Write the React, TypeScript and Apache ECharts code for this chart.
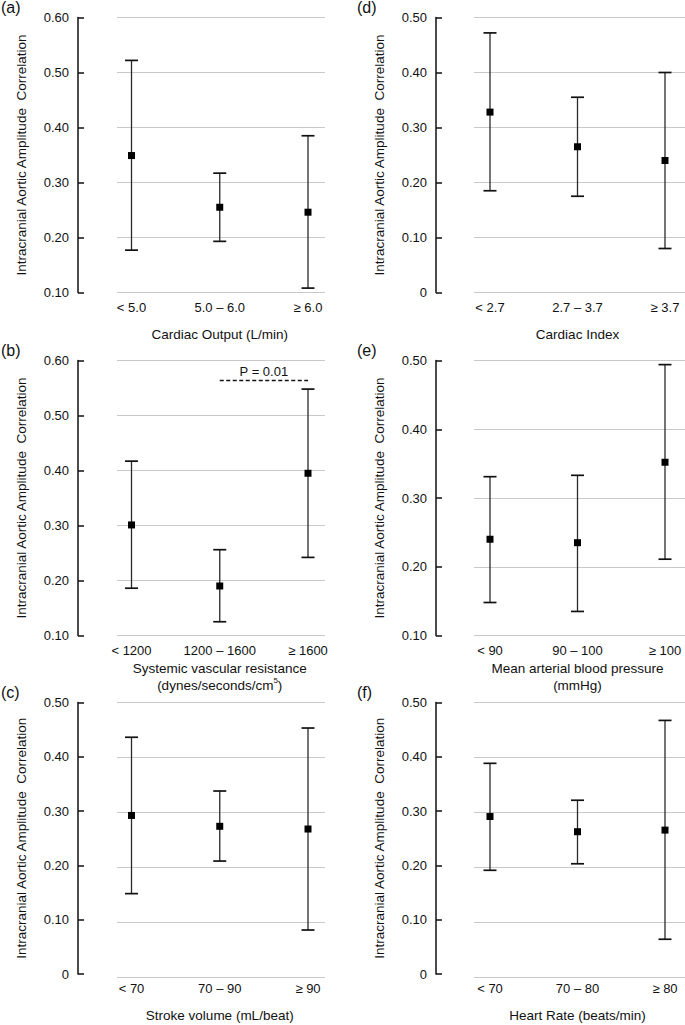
import React, { useEffect, useRef } from 'react';
import * as echarts from 'echarts';

const FONT = "'Liberation Sans', Arial, Helvetica, sans-serif";
const TXT = '#111';
const Y_NAME = 'Intracranial Aortic Amplitude  Correlation';

// (a) Cardiac output
const catsA = ['< 5.0', '5.0 – 6.0', '≥ 6.0'];
const meanA = [0.349, 0.255, 0.246];
const lowA = [0.177, 0.193, 0.108];
const highA = [0.522, 0.317, 0.385];

// (b) Systemic vascular resistance
const catsB = ['< 1200', '1200 – 1600', '≥ 1600'];
const meanB = [0.301, 0.19, 0.395];
const lowB = [0.186, 0.125, 0.242];
const highB = [0.417, 0.256, 0.548];
const pLevelB = 0.565;
const pTextB = 'P = 0.01';

// (c) Stroke volume
const catsC = ['< 70', '70 – 90', '≥ 90'];
const meanC = [0.292, 0.272, 0.267];
const lowC = [0.148, 0.208, 0.081];
const highC = [0.436, 0.337, 0.453];

// (d) Cardiac index
const catsD = ['< 2.7', '2.7 – 3.7', '≥ 3.7'];
const meanD = [0.328, 0.265, 0.24];
const lowD = [0.185, 0.175, 0.08];
const highD = [0.472, 0.355, 0.4];

// (e) Mean arterial blood pressure
const catsE = ['< 90', '90 – 100', '≥ 100'];
const meanE = [0.24, 0.235, 0.352];
const lowE = [0.148, 0.135, 0.211];
const highE = [0.331, 0.333, 0.494];

// (f) Heart rate
const catsF = ['< 70', '70 – 80', '≥ 80'];
const meanF = [0.29, 0.262, 0.265];
const lowF = [0.191, 0.203, 0.064];
const highF = [0.388, 0.32, 0.467];

const panels = [
  { tag: '(a)', cats: catsA, mean: meanA, low: lowA, high: highA, min: 0.1, max: 0.6, xName: 'Cardiac Output (L/min)', col: 0, row: 0 },
  { tag: '(d)', cats: catsD, mean: meanD, low: lowD, high: highD, min: 0, max: 0.5, xName: 'Cardiac Index', col: 1, row: 0 },
  { tag: '(b)', cats: catsB, mean: meanB, low: lowB, high: highB, min: 0.1, max: 0.6, xName: 'Systemic vascular resistance\n(dynes/seconds/cm{sup|5})', col: 0, row: 1, p: true },
  { tag: '(e)', cats: catsE, mean: meanE, low: lowE, high: highE, min: 0.1, max: 0.5, xName: 'Mean arterial blood pressure\n(mmHg)', col: 1, row: 1 },
  { tag: '(c)', cats: catsC, mean: meanC, low: lowC, high: highC, min: 0, max: 0.5, xName: 'Stroke volume (mL/beat)', col: 0, row: 2 },
  { tag: '(f)', cats: catsF, mean: meanF, low: lowF, high: highF, min: 0, max: 0.5, xName: 'Heart Rate (beats/min)', col: 1, row: 2 },
];

const COLS = [
  { axisX: 78, bgLeft: 117, bgWidth: 208, dataLeft: 131.5, dataWidth: 176.5, tagX: 1 },
  { axisX: 436, bgLeft: 474, bgWidth: 211, dataLeft: 490, dataWidth: 175, tagX: 357 },
];
const ROWS = [
  { top: 17.5, height: 275 },
  { top: 360.5, height: 275 },
  { top: 702.5, height: 275 },
];

function renderErrorBar(params: any, api: any) {
  const x = api.value(0);
  const pLow = api.coord([x, api.value(1)]);
  const pHigh = api.coord([x, api.value(2)]);
  const pMean = api.coord([x, api.value(3)]);
  const hw = 6.5;
  const s = 7;
  return {
    type: 'group',
    children: [
      { type: 'line', shape: { x1: pLow[0], y1: pLow[1], x2: pHigh[0], y2: pHigh[1] }, style: { stroke: '#2a2a2a', lineWidth: 1.3 } },
      { type: 'line', shape: { x1: pLow[0] - hw, y1: pLow[1], x2: pLow[0] + hw, y2: pLow[1] }, style: { stroke: '#111', lineWidth: 1.7 } },
      { type: 'line', shape: { x1: pHigh[0] - hw, y1: pHigh[1], x2: pHigh[0] + hw, y2: pHigh[1] }, style: { stroke: '#111', lineWidth: 1.7 } },
      { type: 'rect', shape: { x: pMean[0] - s / 2, y: pMean[1] - s / 2, width: s, height: s }, style: { fill: '#000' } },
    ],
  };
}

export default function App() {
  const ref = useRef<HTMLDivElement>(null);
  useEffect(() => {
    if (!ref.current) return;
    const chart = echarts.init(ref.current, undefined, { renderer: 'svg' });
    const grid: any[] = [];
    const xAxis: any[] = [];
    const yAxis: any[] = [];
    const series: any[] = [];
    const graphic: any[] = [];
    panels.forEach((p, i) => {
      const c = COLS[p.col];
      const r = ROWS[p.row];
      const bg = 2 * i;
      const dg = 2 * i + 1;
      grid.push({ left: c.bgLeft, width: c.bgWidth, top: r.top, height: r.height, containLabel: false });
      grid.push({ left: c.dataLeft, width: c.dataWidth, top: r.top, height: r.height, containLabel: false });
      xAxis.push({ gridIndex: bg, type: 'value', min: 0, max: 1, show: false });
      yAxis.push({
        gridIndex: bg, type: 'value', min: p.min, max: p.max, interval: 0.1,
        axisLine: { show: false }, axisTick: { show: false }, axisLabel: { show: false },
        splitLine: { show: true, lineStyle: { color: '#c9c9c9', width: 1 } },
      });
      const twoLine = p.xName.includes('\n');
      xAxis.push({
        gridIndex: dg, type: 'category', data: p.cats, boundaryGap: false,
        axisLine: { show: false }, axisTick: { show: false },
        axisLabel: { fontSize: 13, fontFamily: FONT, color: TXT, margin: 8, interval: 0 },
        splitLine: { show: false },
        name: p.xName, nameLocation: 'middle', nameGap: twoLine ? 24 : 33,
        nameTextStyle: {
          fontSize: 13.5, fontFamily: FONT, color: TXT, lineHeight: 17,
          rich: { sup: { fontSize: 8, fontFamily: FONT, color: TXT, verticalAlign: 'top', lineHeight: 17, padding: [0, 0, 6, 0] } },
        },
      });
      yAxis.push({
        gridIndex: dg, type: 'value', min: p.min, max: p.max, interval: 0.1,
        offset: c.dataLeft - c.axisX,
        axisLine: { show: true, lineStyle: { color: '#111', width: 1.5 } },
        axisTick: { show: true, inside: true, length: 6, lineStyle: { color: '#111', width: 1.5 } },
        axisLabel: {
          fontSize: 13, fontFamily: FONT, color: TXT, margin: 9,
          formatter: (v: number) => (Math.abs(v) < 1e-9 ? '0' : v.toFixed(2)),
        },
        splitLine: { show: false },
        name: Y_NAME, nameLocation: 'middle', nameGap: 50,
        nameTextStyle: { fontSize: 13.5, fontFamily: FONT, color: TXT },
      });
      const s: any = {
        type: 'custom', xAxisIndex: dg, yAxisIndex: dg,
        renderItem: renderErrorBar,
        encode: { x: 0, y: [1, 2, 3] },
        data: p.cats.map((_, k) => [k, p.low[k], p.high[k], p.mean[k]]),
        silent: true,
      };
      if ((p as any).p) {
        s.markLine = {
          silent: true, symbol: ['none', 'none'],
          lineStyle: { type: [4, 2.5], color: '#111', width: 1.3 },
          label: { show: true, position: 'middle', formatter: pTextB, fontSize: 13, fontFamily: FONT, color: TXT, distance: 2 },
          data: [[{ coord: [1, pLevelB] }, { coord: [2, pLevelB] }]],
        };
      }
      series.push(s);
      graphic.push({
        type: 'text', left: c.tagX, top: r.top - 18,
        style: { text: p.tag, fontSize: 16, fontFamily: FONT, fill: TXT },
      });
    });
    chart.setOption({
      animation: false,
      backgroundColor: '#ffffff',
      grid, xAxis, yAxis, series, graphic,
    });
    return () => chart.dispose();
  }, []);
  return <div ref={ref} style={{ position: 'absolute', left: 0, top: 0, width: 685, height: 1025 }} />;
}
